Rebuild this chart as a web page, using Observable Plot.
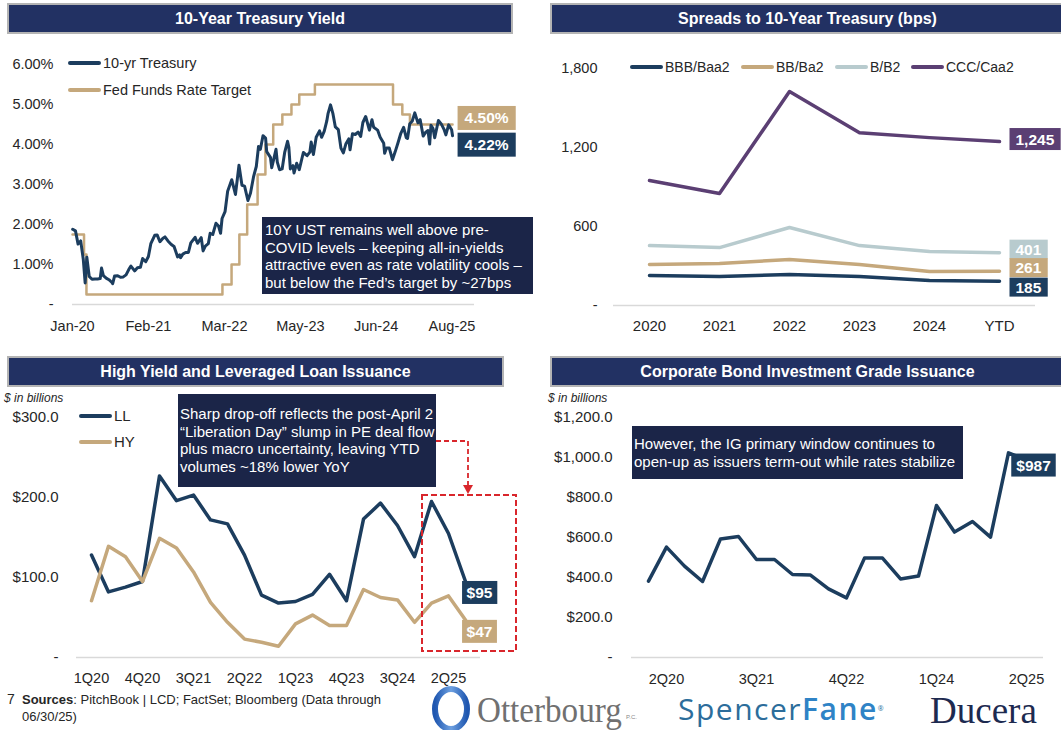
<!DOCTYPE html>
<html><head><meta charset="utf-8">
<script src="https://cdn.jsdelivr.net/npm/d3@7"></script>
<script src="https://cdn.jsdelivr.net/npm/@observablehq/plot@0.6"></script>
<style>
html,body{margin:0;padding:0;background:#fff;}
#root{position:relative;width:1061px;height:730px;overflow:hidden;font-family:"Liberation Sans",Arial,sans-serif;color:#262626;}
#root > svg{position:absolute;overflow:visible;}
.title{position:absolute;height:31px;box-sizing:border-box;background:#223163;color:#fff;font-weight:bold;font-size:16px;display:flex;align-items:center;justify-content:center;border:2px solid #b4b4b4;white-space:nowrap;}
.note{position:absolute;box-sizing:border-box;background:#1b2548;color:#fff;font-size:15px;line-height:17.7px;white-space:nowrap;}
.leg{position:absolute;font-size:14.5px;height:18px;line-height:18px;display:flex;align-items:center;white-space:nowrap;}
.sw{display:inline-block;width:33px;height:3.5px;margin-right:2px;border-radius:2px;}
.unit{position:absolute;font-size:12px;font-style:italic;line-height:14px;}
.abs{position:absolute;white-space:nowrap;}
</style></head><body><div id="root"></div>
<script>
// ---------------- DATA ----------------
// Panel 1: 10-Year Treasury yield (%) and Fed Funds target (upper bound, %)
const tsyDates = [
"2020-01-02","2020-01-17","2020-01-31","2020-02-14","2020-02-28","2020-03-09","2020-03-18","2020-03-31","2020-04-15","2020-04-30","2020-05-15","2020-05-29","2020-06-05","2020-06-15","2020-06-30","2020-07-15","2020-07-31","2020-08-04","2020-08-14","2020-08-31","2020-09-15","2020-09-30","2020-10-15","2020-10-30","2020-11-10","2020-11-30","2020-12-15","2020-12-31",
"2021-01-12","2021-01-29","2021-02-12","2021-02-25","2021-03-18","2021-03-31","2021-04-15","2021-04-30","2021-05-12","2021-05-28","2021-06-15","2021-06-30","2021-07-19","2021-07-30","2021-08-04","2021-08-16","2021-08-31","2021-09-15","2021-09-28","2021-10-21","2021-11-03","2021-11-23","2021-12-03","2021-12-15","2021-12-31",
"2022-01-10","2022-01-24","2022-02-10","2022-02-24","2022-03-07","2022-03-15","2022-03-31","2022-04-14","2022-05-06","2022-05-26","2022-06-14","2022-06-30","2022-07-14","2022-08-01","2022-08-15","2022-08-31","2022-09-15","2022-09-27","2022-10-07","2022-10-21","2022-11-04","2022-11-10","2022-11-30","2022-12-07","2022-12-20","2022-12-30",
"2023-01-06","2023-01-18","2023-02-01","2023-02-15","2023-03-02","2023-03-09","2023-03-17","2023-03-31","2023-04-06","2023-04-20","2023-05-04","2023-05-26","2023-06-15","2023-06-30","2023-07-07","2023-07-19","2023-08-03","2023-08-21","2023-09-01","2023-09-15","2023-09-29","2023-10-06","2023-10-19","2023-11-01","2023-11-14","2023-11-30","2023-12-14","2023-12-27",
"2024-01-10","2024-01-25","2024-02-01","2024-02-14","2024-02-29","2024-03-15","2024-03-29","2024-04-10","2024-04-25","2024-05-15","2024-05-29","2024-06-07","2024-06-28","2024-07-12","2024-07-31","2024-08-05","2024-08-15","2024-08-30","2024-09-16","2024-09-30","2024-10-15","2024-10-31","2024-11-15","2024-11-29","2024-12-06","2024-12-18","2024-12-31",
"2025-01-14","2025-01-31","2025-02-12","2025-02-28","2025-03-14","2025-03-26","2025-04-04","2025-04-11","2025-04-22","2025-05-01","2025-05-21","2025-06-06","2025-06-20","2025-06-30","2025-07-15","2025-07-31","2025-08-05"];
const tsyValues = [
1.88,1.84,1.51,1.59,1.13,0.54,1.18,0.70,0.63,0.64,0.64,0.65,0.91,0.72,0.66,0.62,0.55,0.52,0.71,0.72,0.68,0.69,0.74,0.88,0.96,0.84,0.92,0.93,
1.15,1.07,1.20,1.52,1.73,1.74,1.57,1.65,1.69,1.59,1.50,1.45,1.19,1.24,1.17,1.26,1.30,1.30,1.54,1.68,1.53,1.67,1.34,1.46,1.52,
1.78,1.75,2.03,1.96,1.78,2.15,2.32,2.83,3.12,2.75,3.48,2.98,2.96,2.60,2.79,3.19,3.45,3.95,3.88,4.22,4.16,3.82,3.68,3.42,3.68,3.88,
3.56,3.37,3.39,3.81,4.08,3.93,3.39,3.47,3.29,3.53,3.37,3.80,3.72,3.81,4.06,3.75,4.18,4.34,4.18,4.33,4.59,4.78,4.99,4.77,4.44,4.37,3.91,3.79,
4.02,4.14,3.87,4.27,4.25,4.31,4.20,4.55,4.70,4.36,4.62,4.43,4.36,4.18,4.03,3.78,3.91,3.91,3.62,3.81,4.03,4.28,4.43,4.17,4.15,4.52,4.58,
4.79,4.54,4.62,4.21,4.31,4.35,4.01,4.48,4.40,4.17,4.60,4.51,4.38,4.24,4.49,4.37,4.22];
const fedDates = ["2020-01-01","2020-03-03","2020-03-16","2022-03-17","2022-05-05","2022-06-16","2022-07-28","2022-09-22","2022-11-03","2022-12-15","2023-02-02","2023-03-23","2023-05-04","2023-07-27","2024-09-19","2024-11-08","2024-12-19","2025-08-05"];
const fedValues = [1.75,1.25,0.25,0.50,1.00,1.75,2.50,3.25,4.00,4.50,4.75,5.00,5.25,5.50,5.00,4.75,4.50,4.50];
const tsyTickDates = ["2020-01-01","2021-02-12","2022-03-28","2023-05-10","2024-06-20","2025-08-02"];
const tsyTickLabels = ["Jan-20","Feb-21","Mar-22","May-23","Jun-24","Aug-25"];
const yieldTicks = [0,1,2,3,4,5,6];

// Panel 2: spreads to 10-Year Treasury (bps)
const spreadYears = ["2020","2021","2022","2023","2024","YTD"];
const spreadSeries = ["BBB/Baa2","BB/Ba2","B/B2","CCC/Caa2"];
const spreadBBB = [228,220,235,220,190,185];
const spreadBB  = [311,319,349,311,258,261];
const spreadB   = [455,440,592,455,410,401];
const spreadCCC = [949,850,1625,1312,1275,1245];
const spreadTicks = [0,600,1200,1800];

// Panel 3: HY and LL issuance ($bn)
const hyQuarters = ["1Q20","2Q20","3Q20","4Q20","1Q21","2Q21","3Q21","4Q21","1Q22","2Q22","3Q22","4Q22","1Q23","2Q23","3Q23","4Q23","1Q24","2Q24","3Q24","4Q24","1Q25","2Q25","3Q25"];
const llValues = [128,82,88,95,227,196,203,172,167,128,78,68,70,79,104,71,173,193,165,126,195,155,95];
const hyValues = [71,139,126,95,149,137,107,69,44,23,19,14,42,53,40,40,85,75,72,44,68,77,47];
const hyTicks = [0,100,200,300];

// Panel 4: IG issuance ($bn)
const igQuarters = ["1Q20","2Q20","3Q20","4Q20","1Q21","2Q21","3Q21","4Q21","1Q22","2Q22","3Q22","4Q22","1Q23","2Q23","3Q23","4Q23","1Q24","2Q24","3Q24","4Q24","1Q25","2Q25"];
const igValues = [382,552,457,380,593,605,490,490,415,412,343,298,497,497,393,407,760,627,680,602,1023,987];
const igTicks = [0,200,400,600,800,1000,1200];

// ---------------- STYLE ----------------
const NAVY = "#1c3d5e", TAN = "#c5a87c", LIGHT = "#b8cbce", PURPLE = "#5b3f73";
const FONT = '"Liberation Sans", Arial, sans-serif';
const spreadColors = [NAVY, TAN, LIGHT, PURPLE];

const root = document.getElementById("root");
function place(el, left, top){ el.style.left = left+"px"; el.style.top = top+"px"; root.appendChild(el); return el; }
function div(cls, html, left, top, extra){ const d = document.createElement("div"); d.className = cls; d.innerHTML = html; if (extra) Object.assign(d.style, extra); return place(d, left, top); }
// draw a filled box behind each end-label text (matched by its content, last match wins)
function boxify(svg, specs){
  const texts = Array.from(svg.querySelectorAll("text"));
  for (const s of specs){
    const matches = texts.filter(el => el.textContent.trim() === s.text);
    const t = matches[matches.length-1];
    if (!t) continue;
    const b = t.getBBox();
    const r = document.createElementNS("http://www.w3.org/2000/svg","rect");
    r.setAttribute("x", b.x - s.px); r.setAttribute("y", b.y - s.py);
    r.setAttribute("width", b.width + 2*s.px); r.setAttribute("height", b.height + 2*s.py);
    r.setAttribute("fill", s.fill);
    const tr = t.getAttribute("transform"); if (tr) r.setAttribute("transform", tr);
    t.parentNode.insertBefore(r, t);
  }
}
const D = s => new Date(s + "T00:00:00Z");
const lbl = (data, dx, dy, anchor="middle") => Plot.text(data, {x:"x", y:"y", text:"t", dx, dy, textAnchor:anchor, fill:"white", fontWeight:"bold", fontSize:15.5});

// ---------------- PANEL 1 ----------------
const tsy = tsyDates.map((d,i)=>({date:D(d), v:tsyValues[i]}));
const fed = fedDates.map((d,i)=>({date:D(d), v:fedValues[i]}));
const tickMap = new Map(tsyTickDates.map((d,i)=>[+D(d), tsyTickLabels[i]]));
const lastT = tsy[tsy.length-1], lastF = fed[fed.length-1];
const fmtPct = v => v.toFixed(2)+"%";
const p1 = Plot.plot({
  width:530, height:300, marginLeft:72, marginRight:56, marginTop:24, marginBottom:36,
  style:{fontFamily:FONT, fontSize:"14px", color:"#262626", background:"transparent"},
  x:{type:"utc", domain:[D("2020-01-01"), D("2025-12-01")]},
  y:{domain:[0,6]},
  marks:[
    Plot.ruleY([0], {stroke:"#d9d9d9", strokeWidth:1.5}),
    Plot.axisY(yieldTicks, {tickSize:0, tickPadding:19, fontSize:14.5, label:null, tickFormat:d => d===0 ? "-" : d.toFixed(2)+"%"}),
    Plot.axisX(tsyTickDates.map(D), {tickSize:0, tickPadding:16, fontSize:14.5, label:null, tickFormat:d => tickMap.get(+d)}),
    Plot.line(fed, {x:"date", y:"v", curve:"step-after", stroke:TAN, strokeWidth:2.5}),
    Plot.line(tsy, {x:"date", y:"v", stroke:NAVY, strokeWidth:3, strokeLinejoin:"round"}),
    lbl([{x:lastF.date, y:lastF.v, t:fmtPct(lastF.v)}], 34, -6),
    lbl([{x:lastT.date, y:lastT.v, t:fmtPct(lastT.v)}], 34, 9.5)
  ]
});
place(p1, 0, 40);

// ---------------- PANEL 2 ----------------
const spreadData = [spreadBBB, spreadBB, spreadB, spreadCCC].flatMap((arr,k)=>arr.map((v,i)=>({year:spreadYears[i], v, s:spreadSeries[k]})));
const fmtC = d3.format(",");
const p2 = Plot.plot({
  width:531, height:300, marginLeft:83, marginRight:26, marginTop:28, marginBottom:35,
  style:{fontFamily:FONT, fontSize:"14px", color:"#262626", background:"transparent"},
  x:{type:"point", domain:spreadYears, padding:0.5},
  y:{domain:[0,1800]},
  color:{domain:spreadSeries, range:spreadColors},
  marks:[
    Plot.ruleY([0], {stroke:"#d9d9d9", strokeWidth:1.5}),
    Plot.axisY(spreadTicks, {tickSize:0, tickPadding:16, fontSize:14.5, label:null, tickFormat:d => d===0 ? "-" : fmtC(d)}),
    Plot.axisX({tickSize:0, tickPadding:15, fontSize:15, label:null}),
    Plot.line(spreadData, {x:"year", y:"v", z:"s", stroke:"s", strokeWidth:3.5, strokeLinejoin:"round", strokeLinecap:"round"}),
    lbl([{x:"YTD", y:spreadCCC[5], t:fmtC(spreadCCC[5])}], 16, -2, "start"),
    lbl([{x:"YTD", y:spreadB[5], t:fmtC(spreadB[5])}], 16, -3, "start"),
    lbl([{x:"YTD", y:spreadBB[5], t:fmtC(spreadBB[5])}], 16, -3, "start"),
    lbl([{x:"YTD", y:spreadBBB[5], t:fmtC(spreadBBB[5])}], 16, 6.5, "start")
  ]
});
place(p2, 530, 40);

// ---------------- PANEL 3 ----------------
const issData = [
  ...hyQuarters.map((q,i)=>({q, v:llValues[i], s:"LL"})),
  ...hyQuarters.map((q,i)=>({q, v:hyValues[i], s:"HY"}))
];
const nQ = hyQuarters.length;
const p3 = Plot.plot({
  width:540, height:300, marginLeft:76, marginRight:60, marginTop:27, marginBottom:33,
  style:{fontFamily:FONT, fontSize:"14px", color:"#262626", background:"transparent"},
  x:{type:"point", domain:hyQuarters, padding:0.5},
  y:{domain:[0,300]},
  color:{domain:["LL","HY"], range:[NAVY, TAN]},
  marks:[
    Plot.ruleY([0], {stroke:"#d9d9d9", strokeWidth:1.5}),
    Plot.axisY(hyTicks, {tickSize:0, tickPadding:18, fontSize:15, label:null, tickFormat:d => d===0 ? "-" : "$"+d.toFixed(1)}),
    Plot.axisX(hyQuarters.filter((d,i)=>i%3===0), {tickSize:0, tickPadding:15, fontSize:14.5, label:null}),
    Plot.line(issData, {x:"q", y:"v", z:"s", stroke:"s", strokeWidth:3.5, strokeLinejoin:"round"}),
    lbl([{x:hyQuarters[nQ-1], y:llValues[nQ-1], t:"$"+llValues[nQ-1]}], 14, 11.5),
    lbl([{x:hyQuarters[nQ-1], y:hyValues[nQ-1], t:"$"+hyValues[nQ-1]}], 14, 12)
  ]
});
place(p3, 0, 390);

// ---------------- PANEL 4 ----------------
const nI = igQuarters.length;
const p4 = Plot.plot({
  width:521, height:300, marginLeft:91, marginRight:18, marginTop:27, marginBottom:33,
  style:{fontFamily:FONT, fontSize:"14px", color:"#262626", background:"transparent"},
  x:{type:"point", domain:igQuarters, padding:0.5},
  y:{domain:[0,1200]},
  marks:[
    Plot.ruleY([0], {stroke:"#d9d9d9", strokeWidth:1.5}),
    Plot.axisY(igTicks, {tickSize:0, tickPadding:19, fontSize:15, label:null, tickFormat:d => d===0 ? "-" : "$"+d3.format(",.1f")(d)}),
    Plot.axisX(igQuarters.filter((d,i)=>i%5===1), {tickSize:0, tickPadding:16, fontSize:14.5, label:null}),
    Plot.line(igQuarters.map((q,i)=>({q, v:igValues[i]})), {x:"q", y:"v", stroke:NAVY, strokeWidth:3.5, strokeLinejoin:"round"}),
    lbl([{x:igQuarters[nI-1], y:igValues[nI-1], t:"$"+igValues[nI-1]}], 7, 5.5)
  ]
});
place(p4, 540, 390);

boxify(p1, [{text:fmtPct(lastF.v), fill:TAN, px:7, py:3.5}, {text:fmtPct(lastT.v), fill:NAVY, px:7, py:3.5}]);
boxify(p2, [{text:fmtC(spreadCCC[5]), fill:PURPLE, px:6, py:2.5}, {text:fmtC(spreadB[5]), fill:LIGHT, px:6, py:1}, {text:fmtC(spreadBB[5]), fill:TAN, px:6, py:1}, {text:fmtC(spreadBBB[5]), fill:NAVY, px:6, py:1}]);
boxify(p3, [{text:"$"+llValues[nQ-1], fill:NAVY, px:4.5, py:3}, {text:"$"+hyValues[nQ-1], fill:TAN, px:4.5, py:3}]);
boxify(p4, [{text:"$"+igValues[nI-1], fill:NAVY, px:5, py:3}]);

// ---------------- TITLES ----------------
div("title", "10-Year Treasury Yield", 7, 3, {width:"506px"});
div("title", "Spreads to 10-Year Treasury (bps)", 550, 3, {width:"515px"});
div("title", "High Yield and Leveraged Loan Issuance", 7, 356, {width:"497px"});
div("title", "Corporate Bond Investment Grade Issuance", 550, 356, {width:"515px"});

// ---------------- LEGENDS ----------------
const sw = c => `<span class="sw" style="background:${c}"></span>`;
div("leg", sw(NAVY)+"10-yr Treasury", 68, 54);
div("leg", sw(TAN)+"Fed Funds Rate Target", 68, 81);
const spreadLegX = [630, 741, 835, 911];
spreadSeries.forEach((s,i)=>div("leg", sw(spreadColors[i])+s, spreadLegX[i], 58, {fontSize:"14px"}));
div("leg", sw(NAVY)+"LL", 79, 407, {fontSize:"15px"});
div("leg", sw(TAN)+"HY", 79, 433, {fontSize:"15px"});
div("unit", "$ in billions", 4, 391);
div("unit", "$ in billions", 548, 391);

// ---------------- NOTES ----------------
div("note", "10Y UST remains well above pre-<br>COVID levels – keeping all-in-yields<br>attractive even as rate volatility cools –<br>but below the Fed’s target by ~27bps", 262, 217, {width:"271px", height:"77px", padding:"4px 3px"});
div("note", "Sharp drop-off reflects the post-April 2<br>“Liberation Day” slump in PE deal flow<br>plus macro uncertainty, leaving YTD<br>volumes ~18% lower YoY", 178, 394, {width:"258px", height:"93px", padding:"11px 2px"});
div("note", "However, the IG primary window continues to<br>open-up as issuers term-out while rates stabilize", 632, 426, {width:"331px", height:"53px", padding:"9px 2px"});

// red dashed call-out
const ns = "http://www.w3.org/2000/svg";
const ov = document.createElementNS(ns, "svg");
ov.setAttribute("width", 1061); ov.setAttribute("height", 730);
ov.style.left = "0px"; ov.style.top = "0px"; ov.style.pointerEvents = "none";
ov.innerHTML = `<rect x="422" y="495" width="94" height="156" fill="none" stroke="#d9262c" stroke-width="2" stroke-dasharray="6,3"/>
<path d="M436,441H468V486" fill="none" stroke="#d9262c" stroke-width="1.8" stroke-dasharray="5,3"/>
<path d="M463,485L473,485L468,494Z" fill="#d9262c"/>`;
root.appendChild(ov);

// ---------------- FOOTER ----------------
div("abs", "7", 7, 691, {fontSize:"14px"});
div("abs", "<b>Sources</b>: PitchBook | LCD; FactSet; Bloomberg (Data through<br>06/30/25)", 22, 691, {fontSize:"13px", lineHeight:"17px"});
const logo = document.createElementNS(ns, "svg");
logo.setAttribute("width", 40); logo.setAttribute("height", 46);
logo.innerHTML = `<defs><linearGradient id="og" x1="0" x2="1" y1="0" y2="0"><stop offset="0" stop-color="#1f57b0"/><stop offset="0.5" stop-color="#6ea0e0"/><stop offset="1" stop-color="#1f57b0"/></linearGradient></defs>
<ellipse cx="20" cy="23" rx="16" ry="20" fill="none" stroke="url(#og)" stroke-width="6"/>`;
logo.style.left = "431px"; logo.style.top = "686px";
root.appendChild(logo);
div("abs", "Otterbourg", 477, 692, {fontFamily:'"Liberation Serif","DejaVu Serif",serif', fontSize:"36px", lineHeight:"36px", color:"#707070", transform:"scaleX(0.92)", transformOrigin:"left top"});
div("abs", "P.C.", 626, 714, {fontSize:"6px", lineHeight:"6px", color:"#888"});
div("abs", "Spencer<b style=\"color:#2f83c6;font-weight:600\">Fane</b><span style=\"font-size:7px;vertical-align:top\">®</span>", 678, 694, {fontFamily:'"Open Sans","DejaVu Sans",sans-serif', fontSize:"30px", lineHeight:"30px", color:"#2c6d9b", letterSpacing:"1.5px", fontWeight:"400"});
div("abs", "Ducera", 930, 694, {fontFamily:'"Liberation Serif","DejaVu Serif",serif', fontSize:"37px", lineHeight:"34px", color:"#1d2a50"});
</script></body></html>
